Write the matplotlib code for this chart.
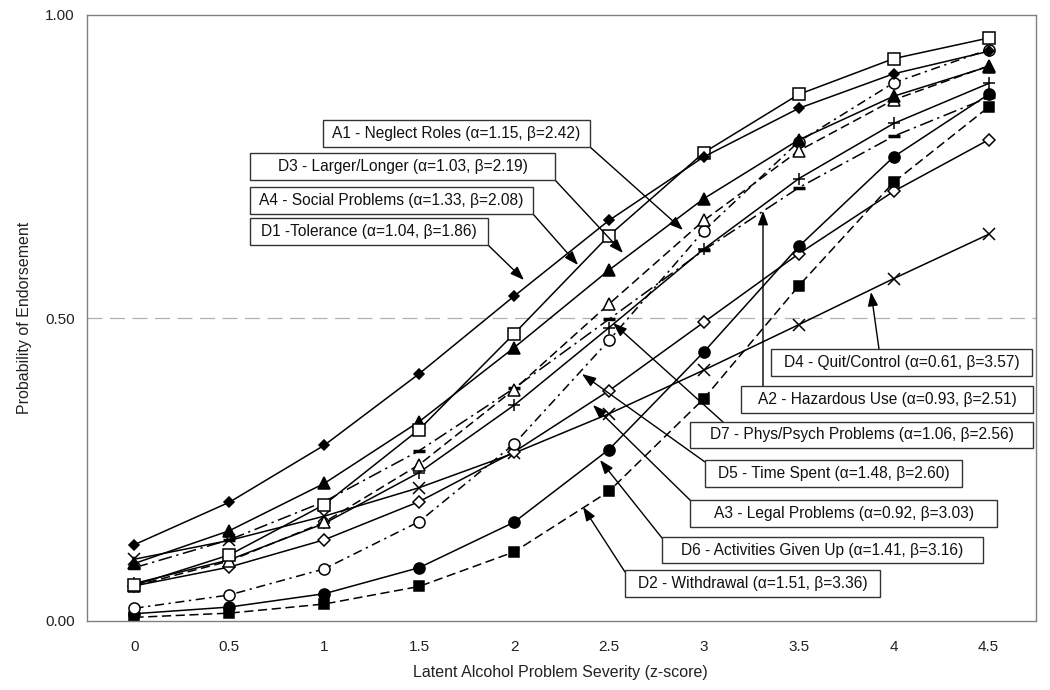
import matplotlib
matplotlib.use("Agg")
import matplotlib.pyplot as plt
import numpy as np
from matplotlib.patches import Rectangle

plt.rcParams["font.family"] = ["Liberation Sans", "DejaVu Sans"]

# severity levels (z-score) shown as categories on the x axis
theta_labels = ["0", "0.5", "1", "1.5", "2", "2.5", "3", "3.5", "4", "4.5"]

# probability of endorsement
d1_tolerance = [0.126, 0.196, 0.290, 0.408, 0.536, 0.661, 0.766, 0.846, 0.903, 0.940]
d3_larger = [0.095, 0.149, 0.227, 0.329, 0.451, 0.579, 0.697, 0.794, 0.866, 0.915]
a4_social = [0.059, 0.109, 0.192, 0.316, 0.474, 0.636, 0.773, 0.869, 0.928, 0.962]
a1_neglect = [0.058, 0.099, 0.163, 0.258, 0.382, 0.523, 0.661, 0.776, 0.860, 0.916]
d4_quit = [0.102, 0.133, 0.173, 0.220, 0.277, 0.342, 0.414, 0.489, 0.565, 0.638]
a2_hazard = [0.088, 0.134, 0.197, 0.281, 0.384, 0.498, 0.612, 0.715, 0.800, 0.864]
d7_physpsych = [0.062, 0.101, 0.161, 0.245, 0.356, 0.484, 0.614, 0.730, 0.821, 0.887]
d5_time = [0.021, 0.043, 0.086, 0.164, 0.292, 0.463, 0.644, 0.791, 0.888, 0.943]
a3_legal = [0.058, 0.089, 0.134, 0.197, 0.279, 0.380, 0.493, 0.606, 0.709, 0.794]
d6_activities = [0.012, 0.023, 0.045, 0.088, 0.163, 0.283, 0.444, 0.618, 0.766, 0.869]
d2_withdrawal = [0.006, 0.013, 0.028, 0.057, 0.114, 0.214, 0.367, 0.553, 0.724, 0.848]

fig = plt.figure(figsize=(10.5, 6.9), dpi=100)
ax = fig.add_axes([87 / 1050, 69 / 690, 949 / 1050, 606 / 690])

x = np.arange(len(theta_labels))
lw = 1.1

# (values, marker, size, filled, dashes)
series = [
    (d4_quit, "x", 8, True, None),
    (a3_legal, "D", 6, False, None),
    (d2_withdrawal, "s", 7, True, (6, 3)),
    (d6_activities, "o", 8, True, None),
    (d5_time, "o", 8, False, (6, 3, 1.5, 3)),
    (a2_hazard, "_", 9, True, (9, 3, 1.5, 3)),
    (d7_physpsych, "+", 9, True, None),
    (a1_neglect, "^", 8, False, (6, 3)),
    (d3_larger, "^", 8, True, None),
    (a4_social, "s", 8, False, None),
    (d1_tolerance, "D", 5.5, True, None),
]

for vals, mk, ms, filled, dashes in series:
    kw = dict(color="black", lw=lw, marker=mk, markersize=ms,
              markeredgecolor="black", markeredgewidth=1.1)
    if mk == "_":
        kw["markeredgewidth"] = 2.5
    kw["markerfacecolor"] = "black" if filled else "white"
    (line,) = ax.plot(x, vals, **kw)
    if dashes is not None:
        line.set_dashes(dashes)

ax.axhline(0.5, color="#b0b0b0", lw=0.9, dashes=(12, 6), zorder=0.5)

ax.set_xlim(-0.5, len(theta_labels) - 0.5)
ax.set_ylim(0, 1)
ax.set_xticks(x)
ax.set_xticklabels(theta_labels)
ax.set_yticks([0, 0.5, 1.0])
ax.set_yticklabels(["0.00", "0.50", "1.00"])
ax.tick_params(axis="both", length=0, labelsize=11, colors="#222222")
ax.tick_params(axis="x", pad=14)
ax.tick_params(axis="y", pad=9)
for sp in ax.spines.values():
    sp.set_color("#808080")
    sp.set_linewidth(1.0)

fig.text(560 / 1050, 1 - 672 / 690, "Latent Alcohol Problem Severity (z-score)",
         ha="center", va="center", fontsize=11.5, color="#222222")
fig.text(25 / 1050, 1 - 318 / 690, "Probability of Endorsement",
         ha="center", va="center", rotation=90, fontsize=11.5, color="#222222")

# label boxes: text, box (x0, y0, x1, y1) in pixels, arrow start, arrow tip
labels = [
    ("A1 - Neglect Roles (\u03b1=1.15, \u03b2=2.42)", (323, 120, 590, 147), (590, 147), (683, 230)),
    ("D3 - Larger/Longer (\u03b1=1.03, \u03b2=2.19)", (250, 153, 555, 180), (555, 180), (623, 253)),
    ("A4 - Social Problems (\u03b1=1.33, \u03b2=2.08)", (250, 187, 533, 214), (533, 214), (578, 265)),
    ("D1 -Tolerance (\u03b1=1.04, \u03b2=1.86)", (250, 218, 488, 245), (488, 245), (524, 280)),
    ("D4 - Quit/Control (\u03b1=0.61, \u03b2=3.57)", (771, 349, 1032, 376), (879, 349), (871, 292)),
    ("A2 - Hazardous Use (\u03b1=0.93, \u03b2=2.51)", (741, 386, 1033, 413), (763, 386), (763, 211)),
    ("D7 - Phys/Psych Problems (\u03b1=1.06, \u03b2=2.56)", (690, 422, 1033, 448), (723, 422), (613, 323)),
    ("D5 - Time Spent (\u03b1=1.48, \u03b2=2.60)", (705, 460, 962, 487), (705, 462), (582, 374)),
    ("A3 - Legal Problems (\u03b1=0.92, \u03b2=3.03)", (690, 500, 997, 527), (692, 502), (593, 405)),
    ("D6 - Activities Given Up (\u03b1=1.41, \u03b2=3.16)", (662, 537, 983, 563), (662, 538), (600, 460)),
    ("D2 - Withdrawal (\u03b1=1.51, \u03b2=3.36)", (625, 570, 880, 597), (625, 572), (583, 507)),
]

W, H = 1050.0, 690.0


def fpos(px, py):
    return (px / W, 1 - py / H)


for text, (x0, y0, x1, y1), start, tip in labels:
    ax.annotate("", xy=fpos(*tip), xycoords="figure fraction",
                xytext=fpos(*start), textcoords="figure fraction",
                arrowprops=dict(arrowstyle="-|>,head_length=0.6,head_width=0.22",
                                mutation_scale=14, color="black", lw=1.0,
                                shrinkA=0, shrinkB=0),
                zorder=6)
    fig.add_artist(Rectangle(fpos(x0, y1), (x1 - x0) / W, (y1 - y0) / H,
                             transform=fig.transFigure, facecolor="white",
                             edgecolor="#333333", lw=1.0, zorder=7))
    fig.text((x0 + x1) / 2 / W, 1 - (y0 + y1) / 2 / H, text, ha="center",
             va="center", fontsize=11.2, color="#111111", zorder=8)

fig.savefig("out.png", dpi=100)
